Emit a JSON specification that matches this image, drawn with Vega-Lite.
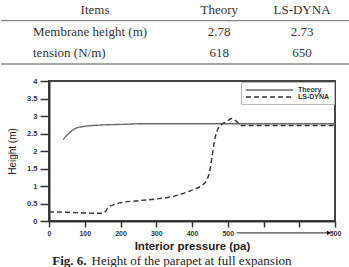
{
  "$schema": "https://vega.github.io/schema/vega-lite/v6.json",
  "padding": {"left": 0, "top": 0, "right": 0, "bottom": 0},
  "spacing": 2,
  "background": "white",
  "config": {"font": "Liberation Sans", "view": {"stroke": null}},
  "resolve": {
    "scale": {"x": "independent", "y": "independent", "color": "independent", "strokeDash": "independent"},
    "legend": {"color": "independent", "strokeDash": "independent"}
  },
  "datasets": {
    "table": [
      {"row": "header", "col": "Items", "text": "Items"},
      {"row": "header", "col": "Theory", "text": "Theory"},
      {"row": "header", "col": "LS-DYNA", "text": "LS-DYNA"},
      {"row": "r1", "col": "Items", "text": "Membrane height (m)"},
      {"row": "r1", "col": "Theory", "text": "2.78"},
      {"row": "r1", "col": "LS-DYNA", "text": "2.73"},
      {"row": "r2", "col": "Items", "text": "tension (N/m)"},
      {"row": "r2", "col": "Theory", "text": "618"},
      {"row": "r2", "col": "LS-DYNA", "text": "650"}
    ],
    "lines": [{"row": "header", "start": 0, "end": 1}, {"row": "r2", "start": 0, "end": 1}],
    "curves": [
      {"series": "Theory", "pressure": 40, "height": 2.33},
      {"series": "Theory", "pressure": 50, "height": 2.45},
      {"series": "Theory", "pressure": 57, "height": 2.52},
      {"series": "Theory", "pressure": 65, "height": 2.59},
      {"series": "Theory", "pressure": 75, "height": 2.65},
      {"series": "Theory", "pressure": 90, "height": 2.69},
      {"series": "Theory", "pressure": 103, "height": 2.71},
      {"series": "Theory", "pressure": 141, "height": 2.74},
      {"series": "Theory", "pressure": 200, "height": 2.76},
      {"series": "Theory", "pressure": 271, "height": 2.78},
      {"series": "Theory", "pressure": 400, "height": 2.78},
      {"series": "Theory", "pressure": 600, "height": 2.78},
      {"series": "Theory", "pressure": 800, "height": 2.78},
      {"series": "LS-DYNA", "pressure": 0, "height": 0.26},
      {"series": "LS-DYNA", "pressure": 50, "height": 0.25},
      {"series": "LS-DYNA", "pressure": 100, "height": 0.23},
      {"series": "LS-DYNA", "pressure": 145, "height": 0.22},
      {"series": "LS-DYNA", "pressure": 155, "height": 0.24},
      {"series": "LS-DYNA", "pressure": 165, "height": 0.38},
      {"series": "LS-DYNA", "pressure": 180, "height": 0.46},
      {"series": "LS-DYNA", "pressure": 200, "height": 0.52},
      {"series": "LS-DYNA", "pressure": 250, "height": 0.58},
      {"series": "LS-DYNA", "pressure": 300, "height": 0.63},
      {"series": "LS-DYNA", "pressure": 340, "height": 0.69},
      {"series": "LS-DYNA", "pressure": 370, "height": 0.77},
      {"series": "LS-DYNA", "pressure": 400, "height": 0.88},
      {"series": "LS-DYNA", "pressure": 425, "height": 1.0},
      {"series": "LS-DYNA", "pressure": 440, "height": 1.15},
      {"series": "LS-DYNA", "pressure": 449, "height": 1.4},
      {"series": "LS-DYNA", "pressure": 455, "height": 1.76},
      {"series": "LS-DYNA", "pressure": 462, "height": 2.24},
      {"series": "LS-DYNA", "pressure": 470, "height": 2.57},
      {"series": "LS-DYNA", "pressure": 483, "height": 2.76},
      {"series": "LS-DYNA", "pressure": 495, "height": 2.83},
      {"series": "LS-DYNA", "pressure": 511, "height": 2.93},
      {"series": "LS-DYNA", "pressure": 523, "height": 2.86},
      {"series": "LS-DYNA", "pressure": 537, "height": 2.73},
      {"series": "LS-DYNA", "pressure": 600, "height": 2.73},
      {"series": "LS-DYNA", "pressure": 700, "height": 2.73},
      {"series": "LS-DYNA", "pressure": 800, "height": 2.73}
    ],
    "arrow": [{"pressure": 525, "pressure2": 783, "height": -0.34}],
    "caption": [{"fig": "Fig. 6.", "caption": "Height of the parapet at full expansion"}]
  },
  "vconcat": [
    {
      "width": 286,
      "height": 74,
      "resolve": {"scale": {"x": "independent"}},
      "layer": [
        {
          "data": {"name": "table"},
          "transform": [{"filter": "datum.row == 'header' || datum.col != 'Items'"}],
          "mark": {"type": "text", "font": "Liberation Serif", "fontSize": 13, "color": "#333", "baseline": "middle", "align": "center"},
          "encoding": {
            "x": {"field": "col", "type": "nominal", "scale": {"type": "point", "domain": ["Items", "_a", "_b", "Theory", "_c", "LS-DYNA"], "range": [46, 253], "padding": 0}, "axis": null},
            "y": {"field": "row", "type": "nominal", "bandPosition": 0.5, "scale": {"type": "band", "domain": ["header", "r1", "r2"], "range": [-1, 64], "paddingInner": 0, "paddingOuter": 0}, "axis": null},
            "text": {"field": "text"}
          }
        },
        {
          "data": {"name": "table"},
          "transform": [{"filter": "datum.row != 'header' && datum.col == 'Items'"}],
          "mark": {"type": "text", "font": "Liberation Serif", "fontSize": 13, "color": "#333", "baseline": "middle", "align": "left", "dx": -62},
          "encoding": {
            "x": {"field": "col", "type": "nominal", "scale": {"type": "point", "domain": ["Items", "_a", "_b", "Theory", "_c", "LS-DYNA"], "range": [46, 253], "padding": 0}, "axis": null},
            "y": {"field": "row", "type": "nominal", "bandPosition": 0.5, "axis": null},
            "text": {"field": "text"}
          }
        },
        {
          "data": {"name": "lines"},
          "mark": {"type": "rule", "color": "#888", "strokeWidth": 1.3},
          "encoding": {
            "x": {"field": "start", "type": "quantitative", "scale": {"domain": [0, 1], "range": [-48, 301], "nice": false, "zero": false}, "axis": null},
            "x2": {"field": "end"},
            "y": {"field": "row", "type": "nominal", "bandPosition": 1, "axis": null}
          }
        }
      ]
    },
    {
      "width": 286,
      "height": 140,
      "view": {"stroke": "#444", "strokeWidth": 2},
      "encoding": {
        "x": {
          "field": "pressure", "type": "quantitative",
          "scale": {"domain": [0, 800], "nice": false},
          "axis": {
            "title": "Interior pressure (pa)", "titleFont": "Liberation Sans", "titleFontWeight": "bold", "titleFontSize": 11.5, "titleColor": "#222", "titlePadding": 4,
            "values": [0, 100, 200, 300, 400, 500, 600, 700, 800],
            "labelExpr": "datum.value <= 500 ? datum.label : (datum.value == 800 ? '500' : '')",
            "labelFont": "Liberation Sans", "labelFontWeight": "bold", "labelFontSize": 7, "labelColor": "#333", "labelPadding": 2, "labelFlush": false, "labelOverlap": false,
            "tickSize": 6, "tickColor": "#333", "tickWidth": 1.5, "domainColor": "#333", "domainWidth": 2, "grid": false
          }
        },
        "y": {
          "field": "height", "type": "quantitative",
          "scale": {"domain": [0, 4], "nice": false},
          "axis": {
            "title": "Height (m)", "titleFont": "Liberation Sans", "titleFontWeight": "normal", "titleFontSize": 10, "titleColor": "#222", "titlePadding": 9,
            "values": [0, 0.5, 1, 1.5, 2, 2.5, 3, 3.5, 4], "format": "~g",
            "labelFont": "Liberation Sans", "labelFontWeight": "bold", "labelFontSize": 7.5, "labelColor": "#333", "labelPadding": 3,
            "tickSize": 9, "tickColor": "#333", "tickWidth": 1.5, "domainColor": "#333", "domainWidth": 2, "grid": false
          }
        }
      },
      "layer": [
        {
          "data": {"name": "curves"},
          "mark": {"type": "line", "interpolate": "monotone", "strokeWidth": 1.4},
          "encoding": {
            "color": {
              "field": "series", "type": "nominal",
              "scale": {"domain": ["Theory", "LS-DYNA"], "range": ["#6a6a6a", "#333333"]},
              "legend": {"title": null, "orient": "top-right", "offset": 1, "symbolType": "M-1,0H14.7", "symbolSize": 36, "symbolStrokeWidth": 1.3, "labelFont": "Liberation Sans", "labelFontWeight": "bold", "labelFontSize": 7, "labelColor": "#333", "labelOffset": 45, "padding": 4, "rowPadding": 0, "strokeColor": "#bbbbbb", "fillColor": "white"}
            },
            "strokeDash": {
              "field": "series", "type": "nominal",
              "scale": {"domain": ["Theory", "LS-DYNA"], "range": [[1, 0], [5, 3]]},
              "legend": {"title": null, "orient": "top-right", "offset": 1, "symbolType": "M-1,0H14.7", "symbolSize": 36, "symbolStrokeWidth": 1.3, "labelFont": "Liberation Sans", "labelFontWeight": "bold", "labelFontSize": 7, "labelColor": "#333", "labelOffset": 45, "padding": 4, "rowPadding": 0, "strokeColor": "#bbbbbb", "fillColor": "white"}
            }
          }
        },
        {
          "data": {"name": "arrow"},
          "mark": {"type": "rule", "color": "#222", "strokeWidth": 1},
          "encoding": {"x2": {"field": "pressure2"}}
        },
        {
          "data": {"name": "arrow"},
          "mark": {"type": "point", "shape": "triangle-right", "filled": true, "color": "#111", "size": 22, "opacity": 1},
          "encoding": {"x": {"field": "pressure2", "type": "quantitative"}}
        }
      ]
    },
    {
      "width": 79,
      "height": 6,
      "data": {"name": "caption"},
      "layer": [
        {
          "mark": {"type": "text", "font": "Liberation Serif", "fontSize": 13, "fontWeight": "bold", "align": "right", "baseline": "alphabetic", "dx": -2, "color": "#222"},
          "encoding": {"text": {"field": "fig"}}
        },
        {
          "mark": {"type": "text", "font": "Liberation Serif", "fontSize": 13, "align": "left", "baseline": "alphabetic", "dx": 3, "color": "#222"},
          "encoding": {"text": {"field": "caption"}}
        }
      ]
    }
  ]
}
